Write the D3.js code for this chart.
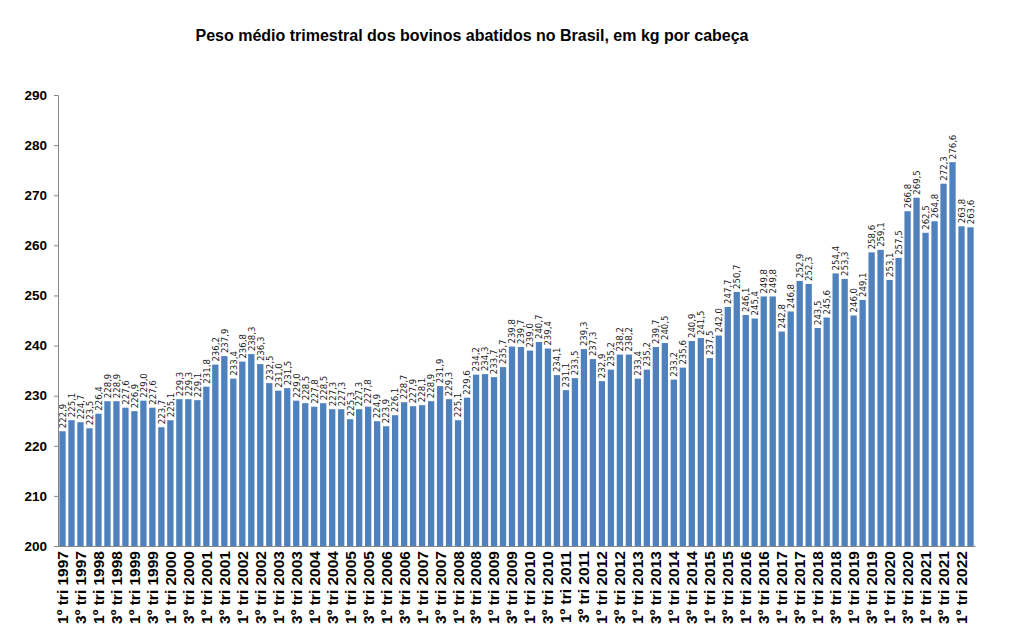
<!DOCTYPE html>
<html>
<head>
<meta charset="utf-8">
<script src="https://cdn.jsdelivr.net/npm/d3@7"></script>
<style>
  html, body { margin: 0; padding: 0; background: #fff; }
  svg { display: block; }
</style>
</head>
<body>
<svg id="chart" width="1013" height="632"></svg>
<script>
const title = "Peso médio trimestral dos bovinos abatidos no Brasil, em kg por cabeça";
const years = d3.range(1997, 2023);
const quarterNames = ["1º tri", "2º tri", "3º tri", "4º tri"];
const values = [
  222.9, 225.1, 224.7, 223.5,
  226.4, 228.9, 228.9, 227.6,
  226.9, 229.0, 227.6, 223.7,
  225.1, 229.3, 229.3, 229.1,
  231.8, 236.2, 237.9, 233.4,
  236.8, 238.3, 236.3, 232.5,
  231.0, 231.5, 229.0, 228.5,
  227.8, 228.5, 227.3, 227.3,
  225.3, 227.3, 227.8, 224.9,
  223.9, 226.1, 228.7, 227.9,
  228.1, 228.9, 231.9, 229.3,
  225.1, 229.6, 234.2, 234.3,
  233.7, 235.7, 239.8, 239.7,
  239.0, 240.7, 239.4, 234.1,
  231.1, 233.5, 239.3, 237.3,
  232.9, 235.2, 238.2, 238.2,
  233.4, 235.2, 239.7, 240.5,
  233.2, 235.6, 240.9, 241.5,
  237.5, 242.0, 247.7, 250.7,
  246.1, 245.4, 249.8, 249.8,
  242.8, 246.8, 252.9, 252.3,
  243.5, 245.6, 254.4, 253.3,
  246.0, 249.1, 258.6, 259.1,
  253.1, 257.5, 266.8, 269.5,
  262.5, 264.8, 272.3, 276.6,
  263.8, 263.6
];
const categories = values.map((v, i) => quarterNames[i % 4] + " " + years[Math.floor(i / 4)]);
const yTicks = d3.range(200, 291, 10);

(function () {
const svg = d3.select("#chart");
const pLeft = 58, pRight = 975, pTop = 95, pBottom = 546;

const x = d3.scaleBand().domain(categories).range([pLeft, pRight]).paddingInner(0.3).paddingOuter(0.15);
const y = d3.scaleLinear().domain([200, 290]).range([pBottom, pTop]);

svg.append("text")
  .attr("x", 472).attr("y", 41)
  .attr("text-anchor", "middle")
  .attr("font-family", "Liberation Sans, Arial, sans-serif")
  .attr("font-weight", "bold").attr("font-size", 16)
  .text(title);

// Bars
svg.append("g").selectAll("rect").data(values).join("rect")
  .attr("x", (d, i) => x(categories[i]))
  .attr("width", x.bandwidth())
  .attr("y", d => y(d))
  .attr("height", d => pBottom - y(d))
  .attr("fill", "#4F81BD");

// Value labels
svg.append("g").selectAll("text").data(values).join("text")
  .attr("transform", (d, i) => `translate(${x(categories[i]) + x.bandwidth() / 2},${y(d) - 3}) rotate(-90)`)
  .attr("dy", "0.35em")
  .attr("font-family", "DejaVu Sans Condensed, DejaVu Sans, sans-serif")
  .attr("font-stretch", "condensed")
  .attr("font-size", 9.5)
  .attr("fill", "#222")
  .text(d => d.toFixed(1).replace(".", ","));

// Y axis
const yAxis = d3.axisLeft(y).tickValues(yTicks).tickSize(4).tickPadding(7);
const gy = svg.append("g").attr("transform", `translate(${pLeft},0)`).call(yAxis);
gy.select(".domain").attr("stroke", "#868686");
gy.selectAll(".tick line").attr("stroke", "#868686");
gy.selectAll(".tick text")
  .attr("font-family", "Liberation Sans, Arial, sans-serif")
  .attr("font-weight", "bold").attr("font-size", 13.5).attr("fill", "#000");

// X axis
const xAxis = d3.axisBottom(x)
  .tickValues(categories.filter((c, i) => i % 2 === 0))
  .tickSize(0).tickPadding(5);
const gx = svg.append("g").attr("transform", `translate(0,${pBottom})`).call(xAxis);
gx.select(".domain").attr("stroke", "#868686");
gx.selectAll(".tick text")
  .attr("font-family", "Liberation Sans, Arial, sans-serif")
  .attr("font-weight", "bold").attr("font-size", 15.5).attr("fill", "#000")
  .attr("text-anchor", "end")
  .attr("transform", "rotate(-90)")
  .attr("x", -5).attr("y", 0).attr("dy", "0.35em");
})();
</script>
</body>
</html>
